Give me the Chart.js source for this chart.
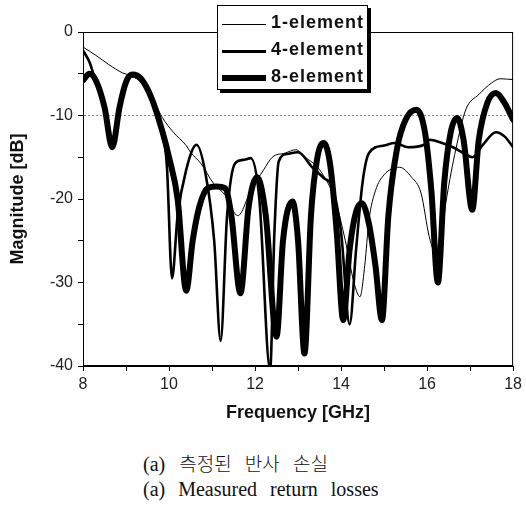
<!DOCTYPE html>
<html>
<head>
<meta charset="utf-8">
<script src="https://cdn.jsdelivr.net/npm/chart.js@4"></script>
<style>
  body { margin: 0; background: #fff; }
  #wrap { position: relative; width: 526px; height: 505px; }
  #box { position: absolute; left: 0; top: 0; width: 526px; height: 430px; }
  .legend { position: absolute; left: 217px; top: 5px; width: 149px; height: 83px;
            border: 1px solid #000; background: #fff; box-shadow: 3px 3px 0 #000; }
  .row { position: absolute; left: 0; height: 24px; width: 149px; }
  .row .ln { position: absolute; left: 4px; width: 44px; background: #000; }
  .row span { position: absolute; left: 53px; top: 0; line-height: 24px;
              font: bold 18px "Liberation Sans", Arial, sans-serif; letter-spacing: 1px; color: #111; }
  .cap { position: absolute; left: 143px; font-family: "Liberation Serif", "Noto Sans CJK KR", serif;
         font-size: 20px; color: #111; white-space: nowrap; }
</style>
</head>
<body>
<div id="wrap">
  <div id="box"><canvas id="returnLoss"></canvas></div>
  <div class="legend">
    <div class="row" style="top:6px"><div class="ln" style="height:1px;top:12px"></div><span>1-element</span></div>
    <div class="row" style="top:33px"><div class="ln" style="height:3px;top:11px"></div><span>4-element</span></div>
    <div class="row" style="top:60px"><div class="ln" style="height:6px;top:9px"></div><span>8-element</span></div>
  </div>
  <div class="cap" style="top:449px; word-spacing:9px">(a) <span style="font-family:'Noto Sans CJK KR'; font-weight:300; font-size:19px">측정된 반사 손실</span></div>
  <div class="cap" style="top:478px; word-spacing:8px">(a) Measured return losses</div>
</div>
<script>
// 측정 데이터 [GHz, dB]
const element1 = [
  [8.0,-1.8],[8.3,-2.8],[8.6,-3.9],[8.92,-4.9],[9.1,-5.2],[9.3,-5.8],[9.5,-7],[9.7,-8.8],
  [9.84,-10.2],[10.1,-12],[10.4,-13.6],[10.5,-14.4],[10.75,-15.8],[11.03,-18.1],[11.3,-19.5],
  [11.6,-22],[11.9,-19],[12.2,-16.5],[12.4,-15],[12.7,-14.5],[12.95,-14.1],[13.17,-15],
  [13.5,-16.5],[13.86,-20.1],[14.1,-25],[14.3,-30],[14.44,-31.7],[14.55,-28],[14.65,-22.5],
  [14.8,-19],[15.0,-17.1],[15.36,-16.2],[15.64,-17.4],[15.86,-19.3],[16.05,-24.5],[16.25,-27],
  [16.45,-20],[16.67,-14],[16.9,-9.3],[17.2,-7.5],[17.5,-6.1],[17.7,-5.6],[18.0,-5.7]
];
const element4 = [
  [8.0,-2.2],[8.15,-3.6],[8.3,-6],[8.5,-9],[8.68,-13.5],[8.85,-9],[9.0,-6.2],[9.15,-5.3],
  [9.35,-5.8],[9.55,-7.5],[9.8,-11],[9.95,-16],[10.07,-29.5],[10.2,-22],[10.4,-16.5],
  [10.64,-13.5],[10.85,-17],[11.05,-25],[11.2,-37],[11.35,-22],[11.54,-15.7],[11.75,-15.3],
  [11.9,-15.1],[12.1,-20],[12.35,-40.5],[12.45,-24],[12.55,-15.5],[12.75,-14.6],[13.0,-14.4],
  [13.33,-16.2],[13.6,-17.5],[13.8,-18.6],[14.0,-24],[14.2,-35],[14.35,-26],[14.5,-18],
  [14.65,-14.5],[15.0,-13.6],[15.25,-13.3],[15.56,-13.8],[15.93,-13.5],[16.05,-12.9],
  [16.3,-13.2],[16.6,-13.8],[16.85,-14.5],[17.05,-15],[17.3,-13.5],[17.6,-12],[17.8,-12.5],[18.0,-13.8]
];
const element8 = [
  [8.0,-5.8],[8.15,-5.0],[8.3,-5.8],[8.5,-9],[8.68,-13.8],[8.85,-9],[9.0,-6],[9.15,-5.1],
  [9.35,-5.6],[9.6,-8],[9.85,-12],[10.0,-15],[10.2,-20],[10.4,-31],[10.55,-25],[10.7,-21],
  [10.9,-18.7],[11.1,-18.5],[11.3,-18.7],[11.45,-22],[11.66,-31.3],[11.85,-21],[12.05,-17.4],
  [12.25,-22],[12.5,-36.5],[12.65,-25],[12.87,-20.3],[13.0,-25],[13.15,-38.5],[13.3,-22],
  [13.45,-15],[13.6,-13.3],[13.75,-16],[13.9,-24],[14.05,-34.5],[14.2,-26],[14.35,-21.5],
  [14.48,-20.5],[14.65,-23],[14.8,-28],[14.95,-34.5],[15.1,-22],[15.3,-14],[15.5,-10.5],
  [15.75,-9.3],[15.95,-12],[16.1,-19],[16.25,-30],[16.4,-18],[16.55,-12],[16.7,-10.3],
  [16.85,-13],[17.05,-21.3],[17.2,-13],[17.4,-8.5],[17.6,-7.3],[17.8,-8.5],[18.0,-10.5]
];
const seriesNames = ["1-element", "4-element", "8-element"];
const lineWidths = [1, 2.6, 6];

const toPoints = arr => arr.map(p => ({ x: p[0], y: p[1] }));

// 그래프 테두리
const framePlugin = {
  id: 'frame',
  afterDraw(chart) {
    const { ctx, chartArea: a } = chart;
    ctx.save();
    ctx.strokeStyle = '#000';
    ctx.lineWidth = 1;
    ctx.strokeRect(a.left + 0.5, a.top + 0.5, a.right - a.left - 1, a.bottom - a.top - 1);
    ctx.restore();
  }
};

const ctx = document.getElementById("returnLoss").getContext("2d");
new Chart(ctx, {
  type: "line",
  data: {
    datasets: [element1, element4, element8].map((arr, i) => ({
      label: seriesNames[i],
      data: toPoints(arr),
      borderColor: "#000",
      borderWidth: lineWidths[i],
      pointRadius: 0,
      fill: false,
      cubicInterpolationMode: "monotone",
      borderJoinStyle: "round",
      borderCapStyle: "round"
    }))
  },
  options: {
    responsive: true,
    maintainAspectRatio: false,
    animation: false,
    layout: { padding: { top: 32, right: 8, left: 0, bottom: 0 } },
    plugins: { legend: { display: false }, tooltip: { enabled: false } },
    scales: {
      x: {
        type: "linear",
        min: 8, max: 18,
        afterFit(scale) { scale.height = 64; },
        ticks: {
          stepSize: 1,
          padding: 4,
          color: "#222",
          font: { family: "Liberation Sans", size: 16 },
          callback: v => (v % 2 === 0 ? v : "")
        },
        grid: { drawOnChartArea: false, tickLength: 5, tickColor: "#000" },
        border: { color: "#000" },
        title: {
          display: true,
          text: "Frequency [GHz]",
          color: "#111",
          font: { family: "Liberation Sans", size: 18, weight: "bold" },
          padding: { top: 0, bottom: 6 }
        }
      },
      y: {
        min: -40, max: 0,
        afterFit(scale) { scale.width = 83; },
        ticks: {
          stepSize: 5,
          padding: 5,
          color: "#222",
          font: { family: "Liberation Sans", size: 16 },
          callback: v => (v % 10 === 0 ? v : "")
        },
        grid: {
          color: c => (c.tick && c.tick.value === -10 ? "#888" : "rgba(0,0,0,0)"),
          tickLength: 5,
          tickColor: "#000"
        },
        border: { color: "#000", dash: [2, 2] },
        title: {
          display: true,
          text: "Magnitude [dB]",
          color: "#111",
          font: { family: "Liberation Sans", size: 18, weight: "bold" },
          padding: { top: 7, bottom: 0 }
        }
      }
    }
  },
  plugins: [framePlugin]
});
</script>
</body>
</html>
